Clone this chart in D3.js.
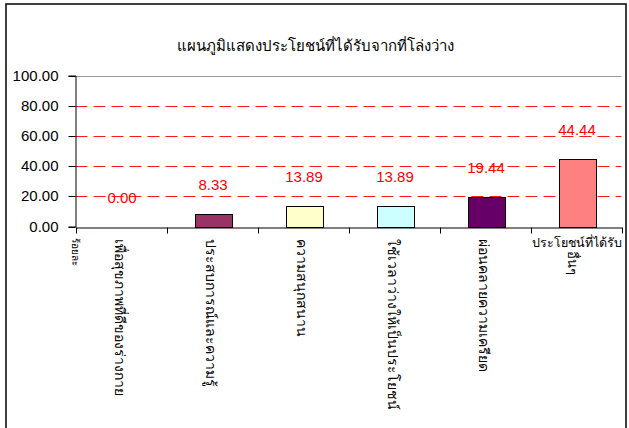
<!DOCTYPE html>
<html>
<head>
<meta charset="utf-8">
<script src="https://cdn.jsdelivr.net/npm/d3@7"></script>
<style>
  body { margin: 0; background: #fff; }
  text { font-family: "Noto Sans", Tahoma, sans-serif; }
</style>
</head>
<body>
<svg width="629" height="428"></svg>
<script>
var width = 629;
var height = 428;
var margin = ({top: 75.5, right: 8, bottom: 201.5, left: 75.5});

// data
var categories = ["เพื่อสุขภาพที่ดีของร่างกาย", "ประสบการณ์และความรู้", "ความสนุกสนาน",
                  "ใช้เวลาว่างให้เป็นประโยชน์", "ผ่อนคลายความเครียด", "ประโยชน์ที่ได้รับอื่นๆ"];
var values = [0.00, 8.33, 13.89, 13.89, 19.44, 44.44];
var barColors = ["#9999ff", "#993366", "#ffffcc", "#ccffff", "#660066", "#ff8080"];
var yTicks = [0, 20, 40, 60, 80, 100];
var title = "แผนภูมิแสดงประโยชน์ที่ได้รับจากที่โล่งว่าง";
var yTitle = "ร้อยละ";

var svg = d3.select("svg");

// outer frame
svg.append("rect")
    .attr("x", 6).attr("y", 4)
    .attr("width", 620).attr("height", 440)
    .attr("fill", "none").attr("stroke", "#000").attr("stroke-width", 1.5);

var x = d3.scaleBand()
    .domain(categories)
    .range([margin.left, 621.5])
    .paddingInner(0).paddingOuter(0);

var y = d3.scaleLinear()
    .domain([0, 100])
    .range([height - margin.bottom, margin.top]);

var yp = d => Math.round(y(d)) + 0.5;

// title
svg.append("text")
    .attr("x", 315).attr("y", 51)
    .attr("text-anchor", "middle")
    .attr("font-size", 15)
    .text(title);

// plot border top
svg.append("line")
    .attr("x1", x.range()[0]).attr("x2", x.range()[1])
    .attr("y1", yp(100)).attr("y2", yp(100))
    .attr("stroke", "#999");

// dashed gridlines
svg.append("g")
    .selectAll("line")
    .data(yTicks.filter(d => d > 0 && d < 100))
    .join("line")
    .attr("x1", x.range()[0]).attr("x2", x.range()[1])
    .attr("y1", d => yp(d)).attr("y2", d => yp(d))
    .attr("stroke", "#ff1a1a")
    .attr("stroke-dasharray", "12,6");

// y axis
svg.append("g")
    .attr("transform", `translate(${margin.left},0)`)
    .call(d3.axisLeft(y).tickValues(yTicks).tickFormat(d3.format(".2f")).tickSize(7).tickPadding(10))
    .call(g => g.select(".domain").attr("stroke", "#000"))
    .call(g => g.selectAll(".tick").attr("transform", d => `translate(0,${yp(d)})`))
    .call(g => g.selectAll("text")
        .attr("font-size", 15)
        .attr("fill", "#000")
        .style("font-family", "Arial, 'Liberation Sans', sans-serif"));

// bars
var bw = 37;
svg.append("g")
    .selectAll("rect")
    .data(values)
    .join("rect")
    .attr("x", (d, i) => Math.round(x(categories[i]) + x.bandwidth() / 2 - bw / 2) + 1.5)
    .attr("y", d => yp(d))
    .attr("width", bw)
    .attr("height", d => yp(0) - yp(d))
    .attr("fill", (d, i) => barColors[i])
    .attr("stroke", "#000")
    .attr("stroke-width", d => d > 0 ? 1 : 0);

// value labels
svg.append("g")
    .selectAll("text")
    .data(values)
    .join("text")
    .attr("x", (d, i) => x(categories[i]) + x.bandwidth() / 2 + 1)
    .attr("y", d => y(d) - 24)
    .attr("text-anchor", "middle")
    .attr("font-size", 15)
    .attr("fill", "#ff0000")
    .style("font-family", "Arial, 'Liberation Sans', sans-serif")
    .text(d => d3.format(".2f")(d));

// x axis
svg.append("g")
    .attr("transform", `translate(0,${yp(0)})`)
    .call(d3.axisBottom(x).tickSize(0).tickFormat(""))
    .call(g => g.select(".domain").attr("stroke", "#000"))
    .call(g => g.selectAll(".tk")
        .data(d3.range(categories.length + 1))
        .join("line")
        .attr("x1", i => Math.round(margin.left + i * x.step()) + 0.5)
        .attr("x2", i => Math.round(margin.left + i * x.step()) + 0.5)
        .attr("y1", 0).attr("y2", 6)
        .attr("stroke", "#000"));

// category labels (rotated)
svg.append("g")
    .selectAll("text")
    .data(categories.slice(0, 5))
    .join("text")
    .attr("transform", d => `translate(${x(d) + x.bandwidth() / 2 - 6},239) rotate(90)`)
    .attr("font-size", 14)
    .text(d => d);

// last label wraps: first line flat, the rest rotated
var last = categories[5];
svg.append("text")
    .attr("x", 622)
    .attr("y", 247)
    .attr("text-anchor", "end")
    .attr("font-size", 12.5)
    .text("ประโยชน์ที่ได้รับ");
svg.append("text")
    .attr("transform", `translate(${x(last) + x.bandwidth() / 2 - 8},251) rotate(90)`)
    .attr("font-size", 13)
    .text("อื่นๆ");

// y title under axis
svg.append("text")
    .attr("transform", `translate(${margin.left - 4},238) rotate(90)`)
    .attr("font-size", 10)
    .text(yTitle);
</script>
</body>
</html>
